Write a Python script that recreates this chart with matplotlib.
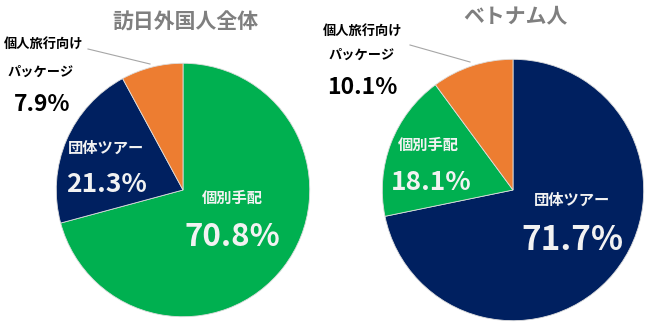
import matplotlib
matplotlib.use("Agg")
import matplotlib.pyplot as plt

plt.rcParams['font.family'] = ['Noto Sans CJK JP', 'DejaVu Sans']

# データ
titles = ['訪日外国人全体', 'ベトナム人']
labels_all = ['個別手配', '団体ツアー', '個人旅行向け\nパッケージ']
values_all = [70.8, 21.3, 7.9]
labels_vn = ['団体ツアー', '個別手配', '個人旅行向け\nパッケージ']
values_vn = [71.7, 18.1, 10.1]

GREEN = '#00B050'
NAVY = '#002060'
ORANGE = '#ED7D31'
colors_all = [GREEN, NAVY, ORANGE]
colors_vn = [NAVY, GREEN, ORANGE]

W, H = 650, 325
fig = plt.figure(figsize=(W / 100, H / 100), dpi=100)


def px(x, y):
    return x / W, 1 - y / H


def pie_axes(cx, cy, r):
    ax = fig.add_axes([(cx - r) / W, 1 - (cy + r) / H, 2 * r / W, 2 * r / H])
    ax.axis('off')
    return ax


def draw(ax, values, colors):
    ax.pie(values, colors=colors, startangle=90, counterclock=False, radius=1,
           wedgeprops=dict(edgecolor='#dddddd', linewidth=0.6))
    ax.set_xlim(-1.01, 1.01)
    ax.set_ylim(-1.01, 1.01)


ax1 = pie_axes(183, 190, 128)
draw(ax1, values_all, colors_all)
ax2 = pie_axes(513, 190, 132)
draw(ax2, values_vn, colors_vn)

# タイトル
fig.text(*px(185, 22), titles[0], ha='center', va='center', fontsize=15,
         fontweight='bold', color='#7f7f7f')
fig.text(*px(515, 16), titles[1], ha='center', va='center', fontsize=15,
         fontweight='bold', color='#7f7f7f')

WHITE = '#f2f2f2'


def pct(v):
    return f'{v:.1f}%'


# 左の円
pk1, pk2 = labels_all[2].split('\n')
fig.text(*px(44, 44), pk1, ha='center', va='center', fontsize=9.5, fontweight='bold')
fig.text(*px(41, 72), pk2, ha='center', va='center', fontsize=9.5, fontweight='bold')
fig.text(*px(42, 104), pct(values_all[2]), ha='center', va='center', fontsize=16.5, fontweight='bold')
fig.add_artist(plt.Line2D([88 / W, 150 / W], [1 - 49 / H, 1 - 64 / H], color='#a6a6a6', lw=0.8))

fig.text(*px(106, 148), labels_all[1], ha='center', va='center', fontsize=11, fontweight='bold', color=WHITE)
fig.text(*px(107, 184), pct(values_all[1]), ha='center', va='center', fontsize=19, fontweight='bold', color=WHITE)
fig.text(*px(232, 198), labels_all[0], ha='center', va='center', fontsize=11, fontweight='bold', color=WHITE)
fig.text(*px(232, 237), pct(values_all[0]), ha='center', va='center', fontsize=22.5, fontweight='bold', color=WHITE)

# 右の円
pk1, pk2 = labels_vn[2].split('\n')
fig.text(*px(363, 31), pk1, ha='center', va='center', fontsize=9.5, fontweight='bold')
fig.text(*px(362, 55), pk2, ha='center', va='center', fontsize=9.5, fontweight='bold')
fig.text(*px(362, 87), pct(values_vn[2]), ha='center', va='center', fontsize=16.5, fontweight='bold')
fig.add_artist(plt.Line2D([410 / W, 470 / W], [1 - 45 / H, 1 - 62 / H], color='#a6a6a6', lw=0.8))

fig.text(*px(428, 145), labels_vn[1], ha='center', va='center', fontsize=11, fontweight='bold', color=WHITE)
fig.text(*px(431, 183), pct(values_vn[1]), ha='center', va='center', fontsize=19, fontweight='bold', color=WHITE)
fig.text(*px(572, 200), labels_vn[0], ha='center', va='center', fontsize=11, fontweight='bold', color=WHITE)
fig.text(*px(572, 240), pct(values_vn[0]), ha='center', va='center', fontsize=24, fontweight='bold', color=WHITE)

fig.savefig('out.png', dpi=100)
